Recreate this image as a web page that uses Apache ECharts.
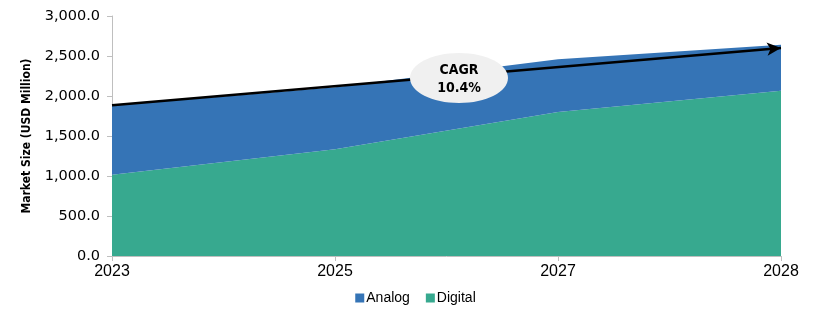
<!DOCTYPE html>
<html>
<head>
<meta charset="utf-8">
<script src="https://cdn.jsdelivr.net/npm/echarts@6/dist/echarts.min.js"></script>
<style>
html,body{margin:0;padding:0;background:#fff;}
#c{width:831px;height:322px;}
</style>
</head>
<body>
<div id="c"></div>
<script>
const years = ['2023', '2025', '2027', '2028'];
const digital = [1015, 1335, 1800, 2065];
const analog = [865, 775, 660, 575];
const yTicks = [0, 500, 1000, 1500, 2000, 2500, 3000];
const cagrStart = 1885;
const cagrEnd = 2600;
const cagrLabel = ['CAGR', '10.4%'];

const chart = echarts.init(document.getElementById('c'), null, {renderer: 'canvas'});
const narrow = '"DejaVu Sans Condensed", "Liberation Sans Narrow", "Liberation Sans", sans-serif';

chart.setOption({
  animation: false,
  grid: {left: 112, right: 50, top: 16, bottom: 66},
  legend: {
    data: ['Analog', 'Digital'],
    bottom: 12,
    left: 'center',
    itemWidth: 9, itemHeight: 9, itemGap: 16,
    icon: 'rect',
    textStyle: {fontFamily: 'Liberation Sans, Arial, sans-serif', fontSize: 14, color: '#000', padding: [0, 0, 0, -3]}
  },
  xAxis: {
    type: 'category',
    data: years,
    boundaryGap: false,
    axisLine: {lineStyle: {color: '#bfbfbf', width: 1}},
    axisTick: {show: true, length: 5, lineStyle: {color: '#bfbfbf'}},
    axisLabel: {fontFamily: 'Liberation Sans, Arial, sans-serif', fontSize: 16, color: '#000', margin: 8,
      alignMinLabel: 'center', alignMaxLabel: 'center'}
  },
  yAxis: {
    type: 'value',
    min: yTicks[0], max: yTicks[yTicks.length - 1], interval: 500,
    name: 'Market Size (USD Million)',
    nameLocation: 'middle',
    nameGap: 79,
    nameTextStyle: {fontFamily: narrow, fontSize: 12, fontWeight: 'bold', color: '#000'},
    axisLine: {show: true, lineStyle: {color: '#bfbfbf', width: 1}},
    axisTick: {show: true, length: 5, lineStyle: {color: '#bfbfbf'}},
    splitLine: {show: false},
    axisLabel: {fontFamily: '"DejaVu Sans", sans-serif', fontSize: 14.5, color: '#000', margin: 12,
      formatter: v => v.toLocaleString('en-US', {minimumFractionDigits: 1, maximumFractionDigits: 1})}
  },
  series: [
    {
      name: 'Digital', type: 'line', stack: 'total', data: digital,
      symbol: 'none', lineStyle: {width: 0},
      itemStyle: {color: '#37a98f'},
      areaStyle: {color: '#37a98f', opacity: 1}
    },
    {
      name: 'Analog', type: 'line', stack: 'total', data: analog,
      symbol: 'none', lineStyle: {width: 0},
      itemStyle: {color: '#3574b6'},
      areaStyle: {color: '#3574b6', opacity: 1},
      markLine: {
        silent: true,
        symbol: ['none', 'arrow'],
        symbolSize: [10, 14],
        label: {show: false},
        lineStyle: {color: '#000', width: 2.5, type: 'solid'},
        data: [[{coord: ['2023', cagrStart]}, {coord: ['2028', cagrEnd]}]]
      }
    }
  ]
});

const pA = chart.convertToPixel({gridIndex: 0}, [1, 2225]);
const pB = chart.convertToPixel({gridIndex: 0}, [2, 2225]);
const cx = pA[0] + 0.556 * (pB[0] - pA[0]);
const cy = pA[1];
chart.setOption({
  graphic: [{
    type: 'ellipse',
    shape: {cx: cx, cy: cy, rx: 49, ry: 25},
    style: {fill: '#f0f0f0'},
    z: 100
  }, {
    type: 'text',
    x: cx, y: cy + 1,
    style: {
      text: cagrLabel.join('\n'),
      fontFamily: narrow, fontSize: 14, fontWeight: 'bold', fill: '#000',
      align: 'center', verticalAlign: 'middle', lineHeight: 18
    },
    z: 101
  }]
});
</script>
</body>
</html>
